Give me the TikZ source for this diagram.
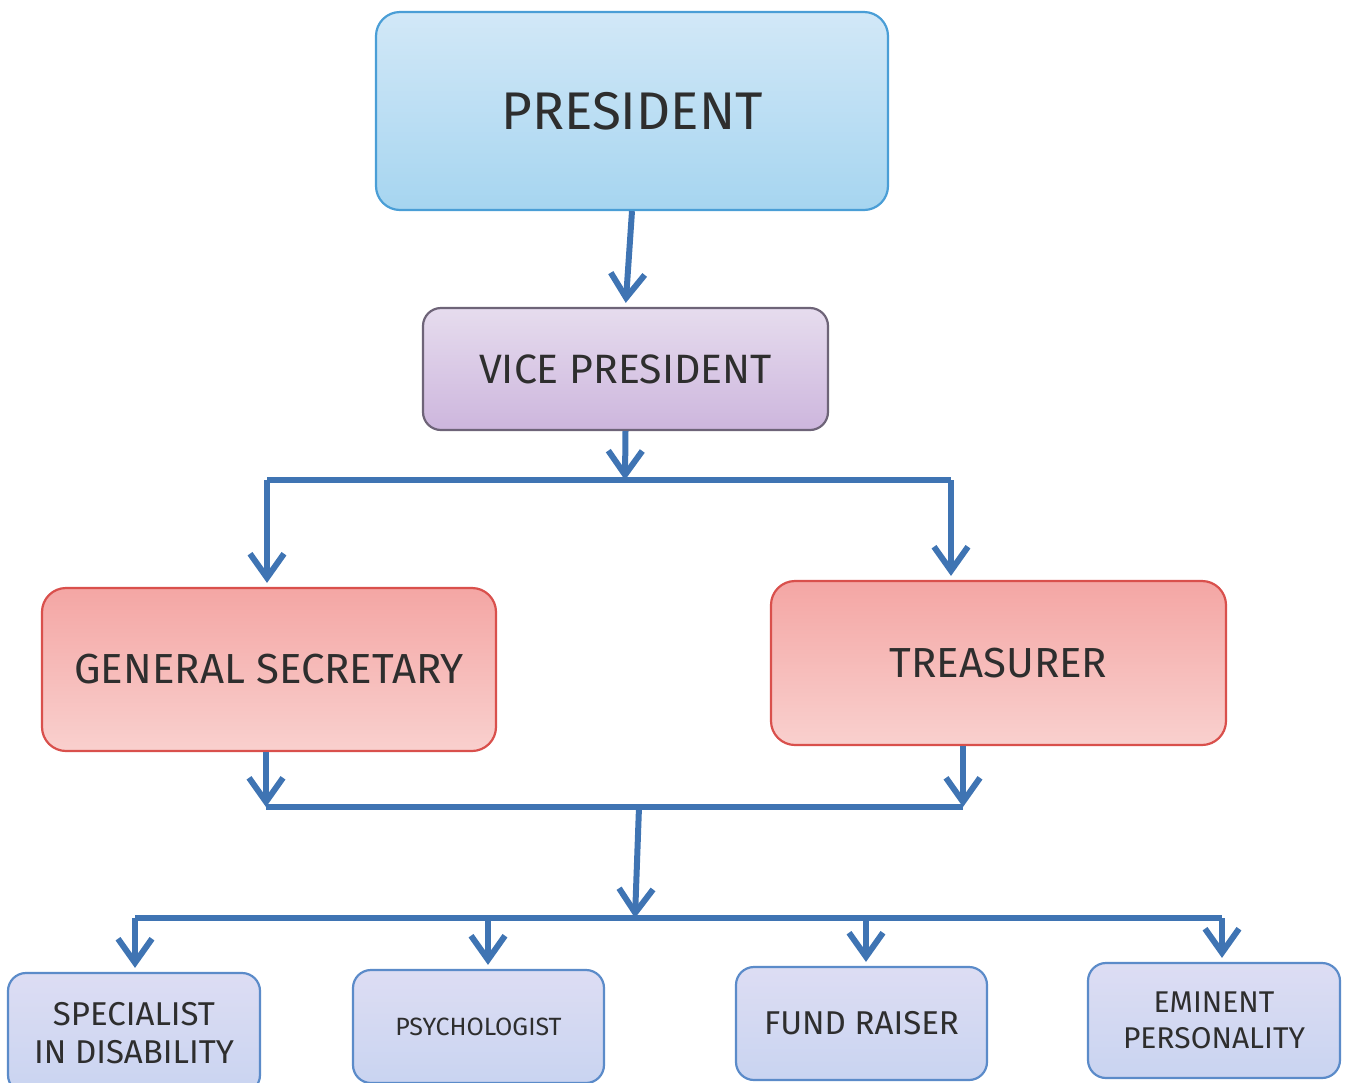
\documentclass[tikz,border=0pt]{standalone}
\usepackage{fontspec}
\setmainfont{Fira Sans}
\usetikzlibrary{arrows.meta}
\definecolor{arrowblue}{HTML}{3F74B3}
\definecolor{txt}{HTML}{2E2E2E}
\definecolor{presTop}{HTML}{D2E8F7}
\definecolor{presBot}{HTML}{A6D5F0}
\definecolor{presLine}{HTML}{4A9ED6}
\definecolor{vpTop}{HTML}{E6DCEE}
\definecolor{vpBot}{HTML}{CDB6DD}
\definecolor{vpLine}{HTML}{6E6478}
\definecolor{redTop}{HTML}{F4A6A4}
\definecolor{redBot}{HTML}{F9D0CE}
\definecolor{redLine}{HTML}{D9504C}
\definecolor{lowTop}{HTML}{DDDDF3}
\definecolor{lowBot}{HTML}{C9D4F1}
\definecolor{lowLine}{HTML}{5B8BC9}
\tikzset{
  box/.style={rounded corners=12pt, line width=1.1pt, text=txt, align=center, inner sep=0pt},
  presbox/.style={box, draw=presLine, top color=presTop, bottom color=presBot},
  vpbox/.style={box, rounded corners=9pt, draw=vpLine, top color=vpTop, bottom color=vpBot},
  redbox/.style={box, draw=redLine, top color=redTop, bottom color=redBot},
  lowbox/.style={box, rounded corners=9pt, draw=lowLine, top color=lowTop, bottom color=lowBot},
  conn/.style={draw=arrowblue, line width=3pt, -{Straight Barb[length=12pt,width=17pt,line width=3pt]}},
  trunk/.style={draw=arrowblue, line width=3pt}
}
\begin{document}
\begin{tikzpicture}[x=0.5pt,y=-0.5pt]
\useasboundingbox (0,0) rectangle (1346,1083);
\begin{scope}
\clip (0,0) rectangle (1346,1083);
\node[presbox, minimum width=256pt, minimum height=99pt, font=\fontsize{26.5}{30}\selectfont] (P) at (632,111) {PRESIDENT};
\node[vpbox, minimum width=202.5pt, minimum height=61pt, font=\fontsize{20.5}{24}\selectfont] (VP) at (625.5,369) {VICE PRESIDENT};
\node[redbox, minimum width=227pt, minimum height=81.5pt, font=\fontsize{21}{24}\selectfont] (GS) at (269,669.5) {GENERAL SECRETARY};
\node[redbox, minimum width=227.5pt, minimum height=82pt, font=\fontsize{21}{24}\selectfont] (TR) at (998.5,663) {TREASURER};
\node[lowbox, minimum width=126pt, minimum height=60pt, font=\fontsize{16.5}{19}\selectfont] (SP) at (134,1033) {SPECIALIST\\IN DISABILITY};
\node[lowbox, minimum width=125.5pt, minimum height=56.5pt, font=\fontsize{12.5}{15}\selectfont] (PS) at (478.5,1026.5) {PSYCHOLOGIST};
\node[lowbox, minimum width=125.5pt, minimum height=56.5pt, font=\fontsize{16.5}{19}\selectfont] (FR) at (861.5,1023.5) {FUND RAISER};
\node[lowbox, minimum width=126pt, minimum height=57.5pt, font=\fontsize{15}{18}\selectfont] (EM) at (1214,1020.5) {EMINENT\\PERSONALITY};
\end{scope}
% junctions
\coordinate (j1) at (625,480);
\coordinate (j1L) at (267,480);
\coordinate (j1R) at (951,480);
\coordinate (j2) at (639,807);
\coordinate (j2L) at (266,807);
\coordinate (j2R) at (963,807);
\coordinate (j3) at (635,918);
\coordinate (j3L) at (135,918);
\coordinate (j3R) at (1222,918);
\coordinate (j3a) at (488,918);
\coordinate (j3b) at (866,918);
% connectors
\draw[conn, shorten >=2pt] (P.south) -- (VP.north);
\draw[conn] (VP.south) -- (j1);
\draw[trunk] (j1L) -- (j1R);
\draw[conn, shorten >=2pt] (j1L) -- (j1L |- GS.north);
\draw[conn, shorten >=2pt] (j1R) -- (j1R |- TR.north);
\draw[conn] (j2L |- GS.south) -- (j2L);
\draw[conn] (j2R |- TR.south) -- (j2R);
\draw[trunk] (j2L) -- (j2R);
\draw[conn] (j2) -- (j3);
\draw[trunk] (j3L) -- (j3R);
\draw[conn, shorten >=2pt] (j3L) -- (j3L |- SP.north);
\draw[conn, shorten >=2pt] (j3a) -- (j3a |- PS.north);
\draw[conn, shorten >=2pt] (j3b) -- (j3b |- FR.north);
\draw[conn, shorten >=2pt] (j3R) -- (j3R |- EM.north);
\end{tikzpicture}
\end{document}
